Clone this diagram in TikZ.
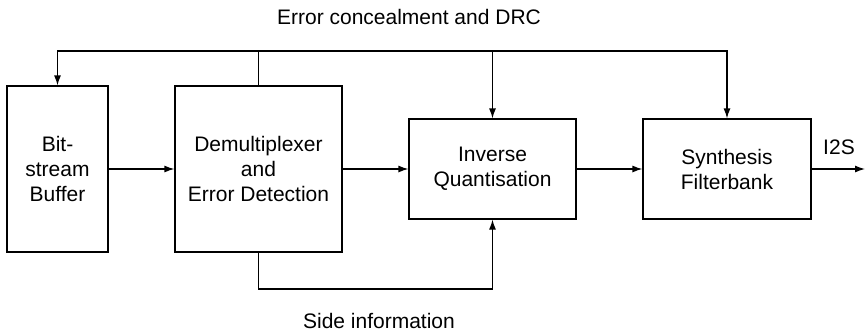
\documentclass[tikz,border=0pt]{standalone}
\usepackage{fontspec}
\setmainfont{Liberation Sans}
\usetikzlibrary{arrows.meta}
\begin{document}
\begin{tikzpicture}[x=1pt,y=-1pt,
  blk/.style={draw,line width=1.2pt,inner sep=0pt,align=center,font=\fontsize{21}{25}\selectfont},
  lbl/.style={inner sep=0pt,font=\fontsize{21}{25}\selectfont},
  conn/.style={line width=1.2pt},
  arr/.style={conn,-{Latex[length=10pt,width=7pt]}}]
\useasboundingbox (0,0) rectangle (865,333);
\node[blk,minimum width=101pt,minimum height=166pt] (bs) at (57.5,169) {Bit-\\stream\\Buffer};
\node[blk,minimum width=167pt,minimum height=166pt] (dm) at (258.5,169) {Demultiplexer\\and\\Error Detection};
\node[blk,minimum width=167pt,minimum height=100pt] (iq) at (492.5,169) {Inverse\\Quantisation};
\node[blk,minimum width=168pt,minimum height=100pt] (sf) at (727,169) {Synthesis\\Filterbank};
\coordinate (top) at (258.5,51);
\coordinate (bot) at (258.5,289);
\coordinate (out) at (865,169);
\node[lbl] (ec) at (409,17) {Error concealment and DRC};
\node[lbl] (si) at (379,321) {Side information};
\node[lbl] (i2s) at (839,147) {I2S};
\draw[arr] (bs.east) -- (dm.west);
\draw[arr] (dm.east) -- (iq.west);
\draw[arr] (iq.east) -- (sf.west);
\draw[arr] (sf.east) -- (out);
\draw[arr] (dm.north) -- (top) -| (bs.north);
\draw[arr] (top) -| (iq.north);
\draw[arr] (top) -| (sf.north);
\draw[arr] (dm.south) -- (bot) -| (iq.south);
\end{tikzpicture}
\end{document}
